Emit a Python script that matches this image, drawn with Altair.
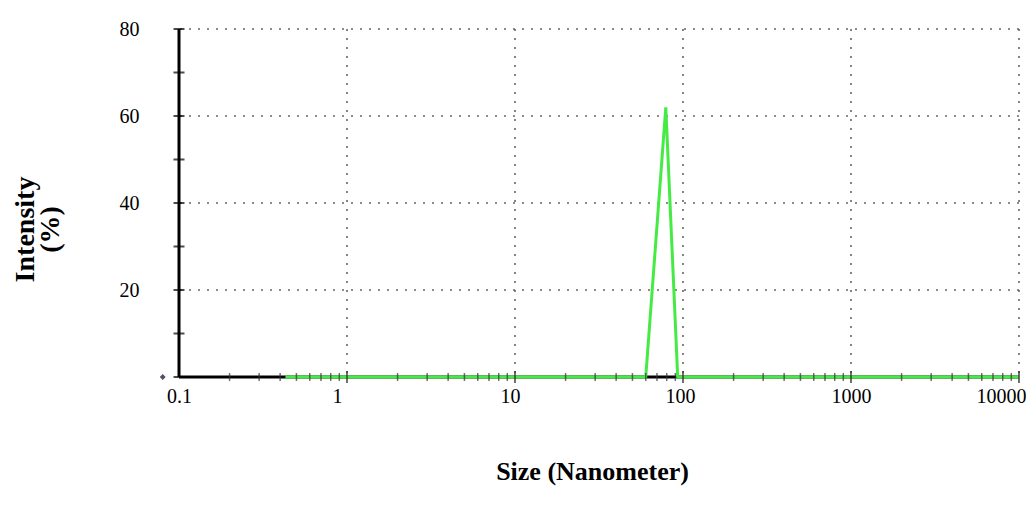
import altair as alt
import pandas as pd

# ---- data ----
size_nm = [0.43, 60, 79, 93, 10000]
intensity = [0, 0, 62, 0, 0]

x_label_values = [0.1, 1, 10, 100, 1000, 10000]
grid_x = [1, 10, 100, 1000, 10000]
grid_y = [20, 40, 60, 80]
y_tick_values = [0, 10, 20, 30, 40, 50, 60, 70, 80]
minor_multipliers = [2, 3, 4, 5, 6, 7, 8, 9]
decades = [0.1, 1, 10, 100, 1000]
minor_x = [m * d for d in decades for m in minor_multipliers]
major_x = [1, 10, 100, 1000, 10000]
marker_x = [0.08]
marker_y = [0]

FONT = "Liberation Serif"
GREEN = "#45ea45"

xs = alt.Scale(type="log", domain=[0.1, 10000])
ys = alt.Scale(domain=[0, 80])

x_axis = alt.Axis(
    values=x_label_values, format="~g",
    labelFont=FONT, labelFontSize=20, labelColor="black",
    labelPadding=19, labelBaseline="middle",
    labelFlush=False, labelAlign="center",
    labelOffset={"expr": "datum.value >= 10000 ? -18 : datum.value == 1 ? -10 : datum.value == 10 ? -5 : datum.value == 100 ? -3 : 0"},
    ticks=False, domain=False, grid=False,
    title="Size (Nanometer)", titleFont=FONT, titleFontSize=26,
    titleFontWeight="bold", titleColor="black",
    titleAlign="center", titleBaseline="middle", titleX=413, titleY=94,
)
y_axis = alt.Axis(
    values=grid_y,
    labelFont=FONT, labelFontSize=20, labelColor="black",
    labelPadding=40, labelBaseline="middle", labelFlush=False,
    ticks=False, domain=False, grid=False,
    title=["Intensity", "(%)"], titleFont=FONT, titleFontSize=28,
    titleFontWeight="bold", titleColor="black", titleAngle=270,
    titleAlign="center", titleBaseline="middle", titleLineHeight=25,
    titleX=-154, titleY=200,
)


def X(field="x"):
    return alt.X(f"{field}:Q", scale=xs, axis=x_axis)


def Y(field="y"):
    return alt.Y(f"{field}:Q", scale=ys, axis=y_axis)


grid_v = alt.Chart(pd.DataFrame({"x": grid_x})).mark_rule(
    color="#666666", strokeWidth=1.6, strokeDash=[2, 7]
).encode(x=X())

grid_h = alt.Chart(pd.DataFrame({"y": grid_y})).mark_rule(
    color="#666666", strokeWidth=1.6, strokeDash=[2, 7]
).encode(y=Y())

y_axis_line = alt.Chart(pd.DataFrame({"x": [0.1]})).mark_rule(
    color="black", strokeWidth=3
).encode(x=X())

x_axis_line = alt.Chart(pd.DataFrame({"y": [0]})).mark_rule(
    color="black", strokeWidth=3
).encode(y=Y())

green = alt.Chart(pd.DataFrame({"x": size_nm, "y": intensity})).mark_line(
    color=GREEN, strokeWidth=3
).encode(x=X(), y=Y())

minor_ticks = alt.Chart(pd.DataFrame({"x": minor_x, "y": [0] * len(minor_x)})).mark_tick(
    orient="vertical", size=8, thickness=1.5, color="#333333"
).encode(x=X(), y=Y())

major_ticks = alt.Chart(pd.DataFrame({"x": major_x, "y": [0] * len(major_x)})).mark_tick(
    orient="vertical", size=12, thickness=2, color="#333333"
).encode(x=X(), y=Y())

y_ticks = alt.Chart(pd.DataFrame({"x": [0.1] * len(y_tick_values), "y": y_tick_values})).mark_tick(
    orient="horizontal", size=11, thickness=2, color="black"
).encode(x=X(), y=Y())

marker = alt.Chart(pd.DataFrame({"x": marker_x, "y": marker_y})).mark_point(
    shape="diamond", filled=True, size=34, color="#5a4a6a", opacity=1
).encode(x=X(), y=Y())

chart = alt.layer(
    grid_v, grid_h, y_axis_line, x_axis_line, green,
    minor_ticks, major_ticks, y_ticks, marker,
).properties(
    width=840, height=348,
    padding={"left": 171, "top": 21, "right": 7, "bottom": 126},
    autosize=alt.AutoSizeParams(type="none"),
    background="white",
).configure_view(stroke=None)

chart.save("out.html", embed_options={"renderer": "svg", "actions": False})
